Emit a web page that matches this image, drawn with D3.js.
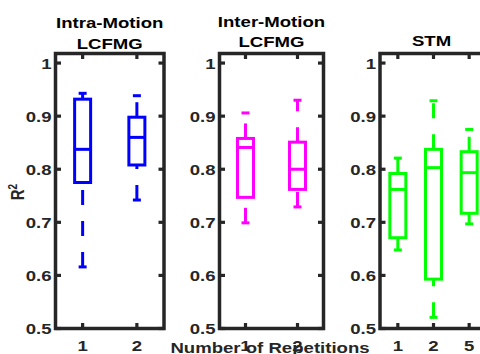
<!DOCTYPE html>
<html>
<head>
<meta charset="utf-8">
<script src="https://cdn.jsdelivr.net/npm/d3@7"></script>
<style>
  html, body { margin: 0; padding: 0; background: #ffffff; }
  svg { display: block; }
</style>
</head>
<body>
<svg id="chart" width="480" height="354"></svg>
<script>
// Five-number summaries per box: [lower whisker, Q1, median, Q3, upper whisker]
const intraCategories = ["1", "2"];
const intraBoxes = [
  [0.616, 0.775, 0.8375, 0.932, 0.943],
  [0.742, 0.808, 0.860, 0.898, 0.9385]
];

const interCategories = ["1", "2"];
const interBoxes = [
  [0.699, 0.747, 0.841, 0.858, 0.906],
  [0.729, 0.762, 0.800, 0.851, 0.930]
];

const stmCategories = ["1", "2", "5"];
const stmBoxes = [
  [0.648, 0.671, 0.762, 0.792, 0.821],
  [0.521, 0.593, 0.803, 0.8375, 0.929],
  [0.697, 0.717, 0.7935, 0.833, 0.875]
];

const yTickValues = [0.5, 0.6, 0.7, 0.8, 0.9, 1];
const yTickLabels = ["0.5", "0.6", "0.7", "0.8", "0.9", "1"];

const panelTitles = [["Intra-Motion", "LCFMG"], ["Inter-Motion", "LCFMG"], ["STM"]];
const xAxisTitle = "Number of Repetitions";

// ---- drawing ----
const svg = d3.select("#chart");
const FONT = "'Liberation Sans', Arial, Helvetica, sans-serif";
const STRETCH = 1.24;           // glyph widening used throughout the figure
const AXIS = "#262626";
const plotTop = 53.5, plotBottom = 328.5;

const y = d3.scaleLinear().domain([0.5, 1.018]).range([plotBottom, plotTop]);

const panels = [
  { cats: intraCategories, boxes: intraBoxes, color: "#0000ff", left: 55.5, right: 164, titleY: [27.5, 48.5] },
  { cats: interCategories, boxes: interBoxes, color: "#ff00ff", left: 219.5, right: 323.5, titleY: [26.5, 47] },
  { cats: stmCategories, boxes: stmBoxes, color: "#00ff00", left: 380, right: 487, titleY: [45.5] }
];

function label(g, text, x, yPos, anchor, size) {
  return g.append("text")
    .attr("transform", `translate(${x},${yPos}) scale(${STRETCH},1)`)
    .attr("text-anchor", anchor)
    .attr("font-family", FONT)
    .attr("font-weight", "bold")
    .attr("font-size", size || 15)
    .attr("fill", AXIS)
    .text(text);
}

const BOX_W = 16, CAP_W = 8, LW = 3;

panels.forEach((p, pi) => {
  const g = svg.append("g");
  const x = d3.scaleLinear()
    .domain([0.5, p.cats.length + 0.5])
    .range([p.left, p.right]);
  const xs = p.cats.map((c, i) => i + 1);

  // boxes
  p.boxes.forEach((b, i) => {
    const cx = x(i + 1);
    const [lo, q1, med, q3, hi] = b;
    const bg = g.append("g")
      .attr("stroke", p.color)
      .attr("stroke-width", LW)
      .attr("fill", "none");
    // whiskers (dashed, pattern running upward from the lower end)
    bg.append("line")
      .attr("x1", cx).attr("x2", cx)
      .attr("y1", y(q3)).attr("y2", y(hi))
      .attr("stroke-dasharray", "15 16");
    bg.append("line")
      .attr("x1", cx).attr("x2", cx)
      .attr("y1", y(lo)).attr("y2", y(q1))
      .attr("stroke-dasharray", "15 16");
    // whisker caps
    [lo, hi].forEach(v => {
      bg.append("line")
        .attr("x1", cx - CAP_W / 2).attr("x2", cx + CAP_W / 2)
        .attr("y1", y(v)).attr("y2", y(v));
    });
    // box
    bg.append("rect")
      .attr("x", cx - BOX_W / 2)
      .attr("y", y(q3))
      .attr("width", BOX_W)
      .attr("height", y(q1) - y(q3));
    // median
    bg.append("line")
      .attr("x1", cx - BOX_W / 2).attr("x2", cx + BOX_W / 2)
      .attr("y1", y(med)).attr("y2", y(med));
  });

  // frame
  g.append("rect")
    .attr("x", p.left).attr("y", plotTop)
    .attr("width", p.right - p.left).attr("height", plotBottom - plotTop)
    .attr("fill", "none")
    .attr("stroke", AXIS)
    .attr("stroke-width", 3.5);

  // inward ticks on all four sides
  const TL = 5.5;
  const ticks = g.append("g").attr("stroke", AXIS).attr("stroke-width", 3.2);
  yTickValues.forEach(v => {
    ticks.append("line").attr("x1", p.left).attr("x2", p.left + TL).attr("y1", y(v)).attr("y2", y(v));
    ticks.append("line").attr("x1", p.right).attr("x2", p.right - TL).attr("y1", y(v)).attr("y2", y(v));
  });
  xs.forEach(v => {
    ticks.append("line").attr("x1", x(v)).attr("x2", x(v)).attr("y1", plotBottom).attr("y2", plotBottom - TL);
    ticks.append("line").attr("x1", x(v)).attr("x2", x(v)).attr("y1", plotTop).attr("y2", plotTop + TL);
  });

  // tick labels
  yTickValues.forEach((v, i) => {
    label(g, yTickLabels[i], p.left - 4, y(v) + 5.5, "end");
  });
  p.cats.forEach((c, i) => {
    label(g, c, x(i + 1), 350.5, "middle");
  });

  // title
  panelTitles[pi].forEach((t, li) => {
    g.append("text")
      .attr("transform", `translate(${(p.left + p.right) / 2 - (pi === 2 ? 2 : 0)},${p.titleY[li]}) scale(${STRETCH},1)`)
      .attr("text-anchor", "middle")
      .attr("font-family", FONT)
      .attr("font-weight", "bold")
      .attr("font-size", 15)
      .attr("fill", "#000000")
      .text(t);
  });
});

// y-axis title R²
const yt = svg.append("text")
  .attr("transform", `translate(24,192) scale(${STRETCH},1) rotate(-90)`)
  .attr("text-anchor", "middle")
  .attr("font-family", FONT)
  .attr("font-weight", "bold")
  .attr("font-size", 15)
  .attr("fill", AXIS);
yt.append("tspan").text("R");
yt.append("tspan").attr("font-size", 10).attr("dy", -6).text("2");

// shared x-axis title
svg.append("text")
  .attr("transform", `translate(270,353) scale(${STRETCH},1)`)
  .attr("text-anchor", "middle")
  .attr("font-family", FONT)
  .attr("font-weight", "bold")
  .attr("font-size", 15)
  .attr("fill", AXIS)
  .text(xAxisTitle);
</script>
</body>
</html>
